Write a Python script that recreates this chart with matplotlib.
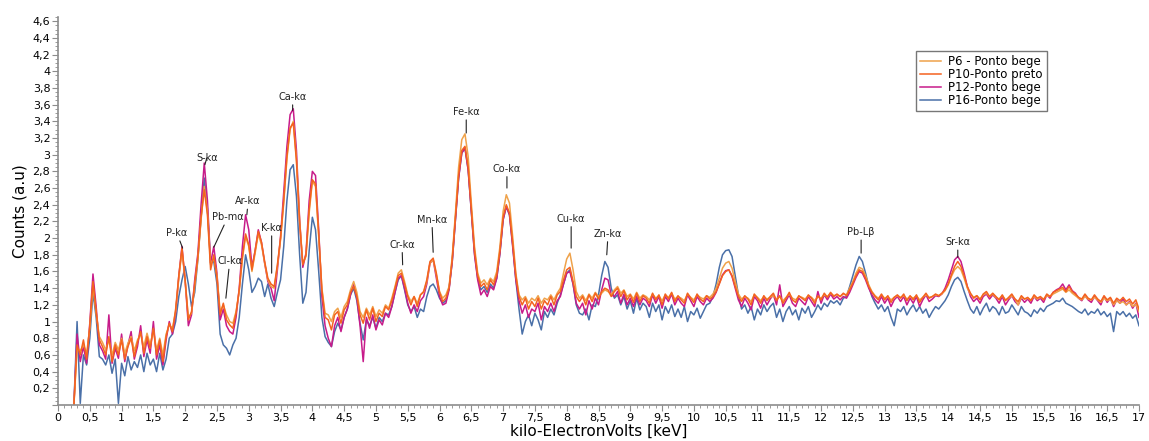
import numpy as np
import matplotlib
matplotlib.use("Agg")
import matplotlib.pyplot as plt
from matplotlib.ticker import MultipleLocator, FuncFormatter

plt.rcParams['font.family'] = ['DejaVu Sans']

# energy axis, 0.05 keV per point, 0.25 .. 17.00 keV
energy = np.round(np.arange(0.25, 17.001, 0.05), 2)

p6 = [
    0.00, 0.68, 0.65, 0.72, 0.62, 0.92, 1.42, 1.10, 0.82, 0.75,
    0.66, 0.78, 0.60, 0.75, 0.66, 0.80, 0.62, 0.74, 0.82, 0.65,
    0.78, 0.85, 0.70, 0.86, 0.72, 0.90, 0.66, 0.80, 0.60, 0.85,
    0.96, 0.92, 1.12, 1.52, 1.85, 1.48, 1.05, 1.10, 1.42, 1.75,
    2.22, 2.62, 2.32, 1.68, 1.76, 1.55, 1.12, 1.20, 1.08, 1.00,
    0.98, 1.12, 1.36, 1.75, 2.02, 1.90, 1.60, 1.82, 2.05, 1.92,
    1.70, 1.50, 1.42, 1.40, 1.66, 1.98, 2.42, 2.95, 3.30, 3.40,
    2.95, 2.20, 1.70, 1.78, 2.30, 2.68, 2.62, 2.02, 1.40, 1.10,
    1.08, 1.00, 1.12, 1.16, 1.05, 1.18, 1.24, 1.38, 1.48, 1.35,
    1.12, 1.05, 1.16, 1.08, 1.18, 1.06, 1.14, 1.10, 1.20, 1.16,
    1.28, 1.42, 1.58, 1.62, 1.48, 1.32, 1.24, 1.30, 1.22, 1.32,
    1.35, 1.48, 1.70, 1.74, 1.56, 1.36, 1.28, 1.32, 1.42, 1.78,
    2.30, 2.85, 3.18, 3.25, 2.98, 2.42, 1.90, 1.58, 1.46, 1.50,
    1.44, 1.52, 1.48, 1.60, 1.90, 2.32, 2.52, 2.42, 2.02, 1.58,
    1.32, 1.26, 1.30, 1.22, 1.28, 1.25, 1.31, 1.22, 1.28, 1.26,
    1.32, 1.26, 1.34, 1.40, 1.58, 1.75, 1.82, 1.62, 1.36, 1.28,
    1.32, 1.25, 1.33, 1.28, 1.35, 1.30, 1.34, 1.38, 1.36, 1.32,
    1.38, 1.42, 1.34, 1.38, 1.30, 1.33, 1.27, 1.35, 1.28, 1.32,
    1.30, 1.26, 1.33, 1.28, 1.31, 1.25, 1.32, 1.29, 1.34, 1.27,
    1.30, 1.28, 1.25, 1.33, 1.29, 1.26, 1.32, 1.29, 1.27, 1.31,
    1.29, 1.33, 1.40, 1.52, 1.64, 1.70, 1.72, 1.64, 1.48, 1.33,
    1.27, 1.30, 1.28, 1.24, 1.32, 1.29, 1.25, 1.30, 1.27, 1.29,
    1.31, 1.27, 1.30, 1.25, 1.29, 1.33, 1.28, 1.26, 1.30, 1.29,
    1.27, 1.31, 1.29, 1.25, 1.30, 1.28, 1.32, 1.30, 1.34, 1.31,
    1.32, 1.30, 1.33, 1.32, 1.40, 1.48, 1.58, 1.65, 1.63, 1.55,
    1.44, 1.36, 1.31, 1.28, 1.32, 1.28, 1.30, 1.26, 1.29, 1.31,
    1.29, 1.31, 1.27, 1.30, 1.28, 1.31, 1.26, 1.29, 1.32, 1.29,
    1.30, 1.32, 1.31, 1.33, 1.37, 1.44, 1.54, 1.62, 1.66, 1.62,
    1.52, 1.40, 1.33, 1.29, 1.31, 1.27, 1.32, 1.34, 1.30, 1.33,
    1.29, 1.27, 1.31, 1.26, 1.28, 1.31, 1.27, 1.20, 1.29, 1.27,
    1.28, 1.26, 1.30, 1.27, 1.29, 1.27, 1.31, 1.30, 1.33, 1.35,
    1.37, 1.39, 1.35, 1.38, 1.34, 1.31, 1.28, 1.26, 1.30, 1.27,
    1.26, 1.29, 1.26, 1.23, 1.28, 1.25, 1.27, 1.20, 1.25, 1.22,
    1.24, 1.20, 1.23, 1.18, 1.21, 1.12,
]

p10 = [
    0.00, 0.72, 0.60, 0.78, 0.55, 0.95, 1.48, 1.12, 0.78, 0.70,
    0.60, 0.82, 0.52, 0.72, 0.60, 0.78, 0.55, 0.70, 0.80, 0.58,
    0.75, 0.88, 0.62, 0.82, 0.68, 0.92, 0.60, 0.78, 0.52, 0.82,
    0.98, 0.88, 1.15, 1.55, 1.88, 1.50, 1.02, 1.12, 1.45, 1.78,
    2.25, 2.58, 2.28, 1.62, 1.80, 1.52, 1.08, 1.22, 1.02, 0.96,
    0.92, 1.10, 1.38, 1.78, 2.05, 1.92, 1.62, 1.85, 2.08, 1.95,
    1.72, 1.52, 1.45, 1.42, 1.68, 2.00, 2.45, 2.98, 3.32, 3.38,
    2.92, 2.18, 1.68, 1.80, 2.35, 2.70, 2.65, 2.05, 1.38, 1.05,
    1.02, 0.90, 1.08, 1.12, 0.98, 1.14, 1.20, 1.35, 1.42, 1.30,
    1.08, 0.98, 1.14, 1.02, 1.16, 1.00, 1.10, 1.06, 1.18, 1.14,
    1.25, 1.40, 1.55, 1.58, 1.45, 1.30, 1.20, 1.30, 1.18, 1.32,
    1.36, 1.50, 1.72, 1.76, 1.58, 1.35, 1.24, 1.28, 1.40, 1.75,
    2.25, 2.75, 3.05, 3.10, 2.85, 2.35, 1.85, 1.55, 1.42, 1.46,
    1.38, 1.50, 1.44, 1.56, 1.85, 2.25, 2.40, 2.30, 1.95, 1.55,
    1.30, 1.20, 1.28, 1.15, 1.24, 1.18, 1.28, 1.15, 1.25, 1.20,
    1.30, 1.20, 1.32, 1.36, 1.50, 1.62, 1.65, 1.48, 1.30, 1.24,
    1.30, 1.20, 1.32, 1.24, 1.34, 1.27, 1.36, 1.40, 1.38, 1.30,
    1.36, 1.40, 1.30, 1.37, 1.26, 1.32, 1.23, 1.34, 1.24, 1.31,
    1.28, 1.22, 1.34, 1.26, 1.32, 1.20, 1.33, 1.27, 1.35, 1.24,
    1.31, 1.26, 1.22, 1.34, 1.28, 1.23, 1.33, 1.27, 1.24, 1.31,
    1.27, 1.30, 1.36, 1.45, 1.55, 1.60, 1.62, 1.55, 1.42, 1.30,
    1.24, 1.31, 1.27, 1.20, 1.33, 1.28, 1.22, 1.31, 1.25, 1.30,
    1.34, 1.25, 1.31, 1.22, 1.28, 1.35, 1.26, 1.23, 1.31, 1.28,
    1.25, 1.32, 1.28, 1.22, 1.31, 1.26, 1.34, 1.29, 1.35, 1.30,
    1.33, 1.30, 1.34, 1.31, 1.38, 1.46, 1.55, 1.62, 1.60, 1.52,
    1.42, 1.35, 1.30, 1.26, 1.33, 1.26, 1.31, 1.23, 1.29, 1.32,
    1.28, 1.33, 1.25, 1.31, 1.26, 1.32, 1.23, 1.29, 1.34, 1.28,
    1.30, 1.33, 1.31, 1.34, 1.38, 1.45, 1.56, 1.66, 1.72, 1.66,
    1.55, 1.42, 1.34, 1.28, 1.31, 1.26, 1.33, 1.36, 1.30, 1.34,
    1.30, 1.26, 1.32, 1.25, 1.29, 1.33, 1.27, 1.24, 1.31, 1.27,
    1.29, 1.25, 1.32, 1.28, 1.30, 1.26, 1.33, 1.30, 1.35, 1.37,
    1.39, 1.41, 1.36, 1.42, 1.36, 1.33, 1.29, 1.27, 1.33, 1.28,
    1.26, 1.32, 1.27, 1.24, 1.31, 1.26, 1.29, 1.22, 1.28, 1.25,
    1.29, 1.24, 1.27, 1.21, 1.26, 1.15,
]

p12 = [
    0.00, 0.85, 0.52, 0.70, 0.50, 0.98, 1.57, 1.18, 0.72, 0.65,
    0.55, 1.08, 0.50, 0.68, 0.56, 0.85, 0.52, 0.72, 0.88, 0.55,
    0.70, 0.95, 0.58, 0.78, 0.62, 1.00, 0.55, 0.72, 0.48, 0.78,
    1.00, 0.85, 1.10, 1.55, 1.90, 1.48, 0.95, 1.08, 1.50, 1.82,
    2.40, 2.90, 2.45, 1.70, 1.90, 1.58, 1.02, 1.15, 0.95, 0.88,
    0.85, 1.05, 1.40, 1.90, 2.28, 2.10, 1.65, 1.85, 2.10, 1.95,
    1.70, 1.48, 1.40, 1.25, 1.62, 2.02, 2.55, 3.10, 3.48, 3.55,
    3.05, 2.22, 1.65, 1.82, 2.45, 2.80, 2.75, 2.10, 1.30, 0.95,
    0.80, 0.70, 0.95, 1.05, 0.88, 1.05, 1.15, 1.32, 1.45, 1.28,
    0.95, 0.52, 1.05, 0.92, 1.08, 0.90, 1.02, 0.96, 1.10, 1.05,
    1.18, 1.35, 1.52, 1.55, 1.40, 1.22, 1.10, 1.20, 1.12, 1.25,
    1.30, 1.45, 1.70, 1.74, 1.52, 1.30, 1.20, 1.22, 1.38, 1.72,
    2.22, 2.72, 3.02, 3.08, 2.82, 2.32, 1.80, 1.50, 1.32, 1.38,
    1.30, 1.42, 1.38, 1.52, 1.82, 2.22, 2.38, 2.28, 1.90, 1.50,
    1.25, 1.10, 1.20, 1.05, 1.15, 1.12, 1.22, 1.02, 1.18, 1.12,
    1.22, 1.12, 1.25, 1.30, 1.45, 1.58, 1.60, 1.45, 1.22, 1.15,
    1.22, 1.08, 1.25, 1.15, 1.28, 1.20, 1.38, 1.52, 1.50, 1.32,
    1.30, 1.36, 1.22, 1.33, 1.20, 1.28, 1.18, 1.30, 1.20, 1.28,
    1.25, 1.18, 1.32, 1.22, 1.30, 1.16, 1.30, 1.24, 1.33, 1.20,
    1.28, 1.22, 1.18, 1.32, 1.25, 1.18, 1.30, 1.24, 1.20, 1.28,
    1.24, 1.28, 1.35, 1.46, 1.56, 1.61, 1.62, 1.54, 1.40, 1.26,
    1.18, 1.28, 1.22, 1.14, 1.30, 1.25, 1.16, 1.28, 1.20, 1.27,
    1.32, 1.20, 1.44, 1.18, 1.25, 1.32, 1.22, 1.18, 1.28, 1.24,
    1.20, 1.30, 1.24, 1.18, 1.36, 1.22, 1.32, 1.26, 1.33, 1.27,
    1.30, 1.26, 1.30, 1.28, 1.35, 1.44, 1.53, 1.60, 1.58, 1.50,
    1.40, 1.32, 1.26, 1.22, 1.30, 1.22, 1.28, 1.18, 1.26, 1.30,
    1.24, 1.30, 1.20, 1.28, 1.22, 1.30, 1.18, 1.26, 1.32, 1.24,
    1.27, 1.31, 1.30, 1.33, 1.40, 1.50, 1.62, 1.74, 1.78, 1.72,
    1.58, 1.42, 1.30, 1.24, 1.28, 1.22, 1.30, 1.33, 1.27, 1.32,
    1.28, 1.22, 1.30, 1.20, 1.26, 1.31, 1.24, 1.20, 1.28, 1.23,
    1.27, 1.22, 1.30, 1.25, 1.28, 1.23, 1.32, 1.28, 1.35, 1.38,
    1.40, 1.45, 1.38, 1.44, 1.37, 1.34, 1.28, 1.25, 1.31, 1.26,
    1.23, 1.30, 1.25, 1.20, 1.30, 1.23, 1.28, 1.18, 1.26, 1.22,
    1.27, 1.20, 1.24, 1.16, 1.22, 1.05,
]

p16 = [
    0.00, 1.00, 0.02, 0.60, 0.48, 0.80, 1.35, 1.05, 0.58, 0.55,
    0.48, 0.60, 0.38, 0.55, 0.02, 0.50, 0.35, 0.58, 0.42, 0.52,
    0.45, 0.60, 0.40, 0.62, 0.48, 0.55, 0.40, 0.62, 0.42, 0.55,
    0.80, 0.85, 1.00, 1.30, 1.50, 1.66, 1.45, 1.18, 1.35, 1.75,
    2.25, 2.72, 2.35, 1.70, 1.72, 1.45, 0.85, 0.72, 0.68, 0.60,
    0.72, 0.80, 1.05, 1.45, 1.80, 1.62, 1.35, 1.42, 1.52, 1.48,
    1.30, 1.45, 1.28, 1.18, 1.35, 1.50, 1.90, 2.45, 2.82, 2.88,
    2.50, 1.80, 1.22, 1.35, 1.85, 2.25, 2.10, 1.60, 1.05, 0.82,
    0.75, 0.70, 0.88, 0.98, 0.90, 1.05, 1.15, 1.32, 1.40, 1.25,
    0.98, 0.78, 1.02, 0.95, 1.05, 0.92, 1.05, 1.00, 1.10, 1.08,
    1.18, 1.35, 1.50, 1.55, 1.38, 1.20, 1.12, 1.18, 1.05, 1.15,
    1.12, 1.30, 1.42, 1.45, 1.38, 1.28, 1.22, 1.25, 1.40, 1.72,
    2.22, 2.72, 3.02, 3.08, 2.82, 2.32, 1.82, 1.52, 1.38, 1.42,
    1.35, 1.45, 1.40, 1.52, 1.82, 2.22, 2.38, 2.28, 1.92, 1.50,
    1.15, 0.85, 1.00, 1.08, 0.95, 1.10, 1.02, 0.90, 1.12, 1.05,
    1.15, 1.08, 1.22, 1.32, 1.45, 1.58, 1.62, 1.45, 1.20, 1.10,
    1.08, 1.15, 1.02, 1.20, 1.18, 1.32, 1.55, 1.72, 1.65, 1.40,
    1.28, 1.32, 1.20, 1.30, 1.15, 1.25, 1.10, 1.28, 1.14, 1.22,
    1.18, 1.05, 1.22, 1.12, 1.20, 1.02, 1.18, 1.10, 1.20, 1.06,
    1.15, 1.05, 1.18, 1.00, 1.12, 1.08, 1.16, 1.04, 1.12, 1.20,
    1.22, 1.30, 1.45, 1.65, 1.80, 1.85, 1.86, 1.78, 1.55, 1.32,
    1.15, 1.20, 1.10, 1.18, 1.02, 1.15, 1.08, 1.20, 1.12, 1.18,
    1.22, 1.05, 1.15, 1.00, 1.12, 1.18, 1.08, 1.14, 1.02, 1.16,
    1.10, 1.18, 1.05, 1.12, 1.20, 1.14, 1.22, 1.18, 1.25, 1.22,
    1.25, 1.20, 1.28, 1.30, 1.42, 1.55, 1.68, 1.78, 1.72, 1.58,
    1.42, 1.30, 1.22, 1.15, 1.20, 1.12, 1.18, 1.05, 0.95, 1.15,
    1.12, 1.18, 1.08, 1.15, 1.20, 1.12, 1.18, 1.10, 1.15, 1.05,
    1.12, 1.18, 1.15, 1.20, 1.25, 1.32, 1.42, 1.50, 1.53, 1.48,
    1.36, 1.25, 1.15, 1.10, 1.18, 1.08, 1.16, 1.22, 1.12, 1.18,
    1.15, 1.08, 1.18, 1.10, 1.12, 1.20, 1.14, 1.08, 1.18, 1.12,
    1.10, 1.06, 1.14, 1.10, 1.16, 1.12, 1.18, 1.20, 1.22, 1.25,
    1.24, 1.28, 1.22, 1.20, 1.18, 1.15, 1.12, 1.10, 1.15, 1.08,
    1.12, 1.10, 1.15, 1.08, 1.12, 1.06, 1.10, 0.88, 1.12, 1.08,
    1.12, 1.06, 1.10, 1.04, 1.08, 0.95,
]

series_names = ["P6 - Ponto bege", "P10-Ponto preto", "P12-Ponto bege", "P16-Ponto bege"]
series_colors = ["#EFA24A", "#F4621F", "#C71B8A", "#4A70A8"]

# peak labels: text, line tip (keV, counts), text position (keV, counts)
peak_names = ["P-kα", "S-kα", "Pb-mα", "Cl-kα", "Ar-kα", "K-kα", "Ca-kα", "Cr-kα",
              "Mn-kα", "Fe-kα", "Co-kα", "Cu-kα", "Zn-kα", "Pb-Lβ", "Sr-kα"]
peak_tip_kev = [1.96, 2.31, 2.45, 2.64, 2.97, 3.36, 3.69, 5.42,
                5.90, 6.42, 7.06, 8.07, 8.63, 12.63, 14.15]
peak_tip_cnt = [1.88, 2.88, 1.89, 1.28, 2.28, 1.58, 3.53, 1.68,
                1.83, 3.26, 2.60, 1.88, 1.80, 1.82, 1.77]
label_kev = [1.87, 2.34, 2.67, 2.70, 2.99, 3.36, 3.69, 5.41,
             5.88, 6.42, 7.06, 8.07, 8.65, 12.63, 14.15]
label_cnt = [2.06, 2.96, 2.25, 1.72, 2.44, 2.12, 3.69, 1.92,
             2.22, 3.51, 2.83, 2.23, 2.05, 2.07, 1.95]


def comma(v, pos):
    if abs(v) < 1e-9:
        return "0"
    return f"{v:g}".replace(".", ",")


fig = plt.figure(figsize=(11.49, 4.41), dpi=100)
ax = fig.add_axes([58 / 1149, 1 - 405 / 441, (1139 - 58) / 1149, (405 - 17) / 441])

data = {name: vals for name, vals in zip(series_names, [p6, p10, p12, p16])}
colors = dict(zip(series_names, series_colors))

# draw blue first so the warm lines sit on top
lines = {}
for name in [series_names[3], series_names[2], series_names[0], series_names[1]]:
    (ln,) = ax.plot(energy, data[name], color=colors[name], lw=1.1, label=name)
    lines[name] = ln

for name, tx, ty, lx, ly in zip(peak_names, peak_tip_kev, peak_tip_cnt, label_kev, label_cnt):
    ax.annotate(name, xy=(tx, ty), xytext=(lx, ly), ha="center", va="center",
                fontsize=7, color="#222222",
                arrowprops=dict(arrowstyle="-", color="#222222", lw=0.8,
                                shrinkA=0, shrinkB=0))

ax.set_xlim(0, 17)
ax.set_ylim(0, 4.65)

ax.xaxis.set_major_locator(MultipleLocator(0.5))
ax.xaxis.set_minor_locator(MultipleLocator(0.1))
ax.yaxis.set_major_locator(MultipleLocator(0.2))
ax.yaxis.set_minor_locator(MultipleLocator(0.05))
ax.xaxis.set_major_formatter(FuncFormatter(comma))
ax.yaxis.set_major_formatter(FuncFormatter(lambda v, p: "" if abs(v) < 1e-9 else comma(v, p)))

for side in ["top", "right"]:
    ax.spines[side].set_visible(False)
for side in ["left", "bottom"]:
    ax.spines[side].set_color("#8c8c8c")
    ax.spines[side].set_linewidth(1.2)

ax.tick_params(which="major", length=4, width=0.8, color="#8c8c8c", labelsize=8, pad=1.5)
ax.tick_params(which="minor", length=2, width=0.6, color="#8c8c8c")

ax.set_xlabel("kilo-ElectronVolts [keV]", fontsize=11, labelpad=1)
ax.set_ylabel("Counts (a.u)", fontsize=11, labelpad=4)

handles = [lines[n] for n in series_names]
leg = ax.legend(handles, series_names, loc="upper right", bbox_to_anchor=(0.915, 0.912),
                fontsize=8.5, frameon=True, fancybox=False, labelspacing=0.0,
                handlelength=1.8, handletextpad=0.6, borderpad=0.35, borderaxespad=0)
leg.get_frame().set_edgecolor("#555555")
leg.get_frame().set_linewidth(1.0)

fig.savefig("out.png", dpi=100)
